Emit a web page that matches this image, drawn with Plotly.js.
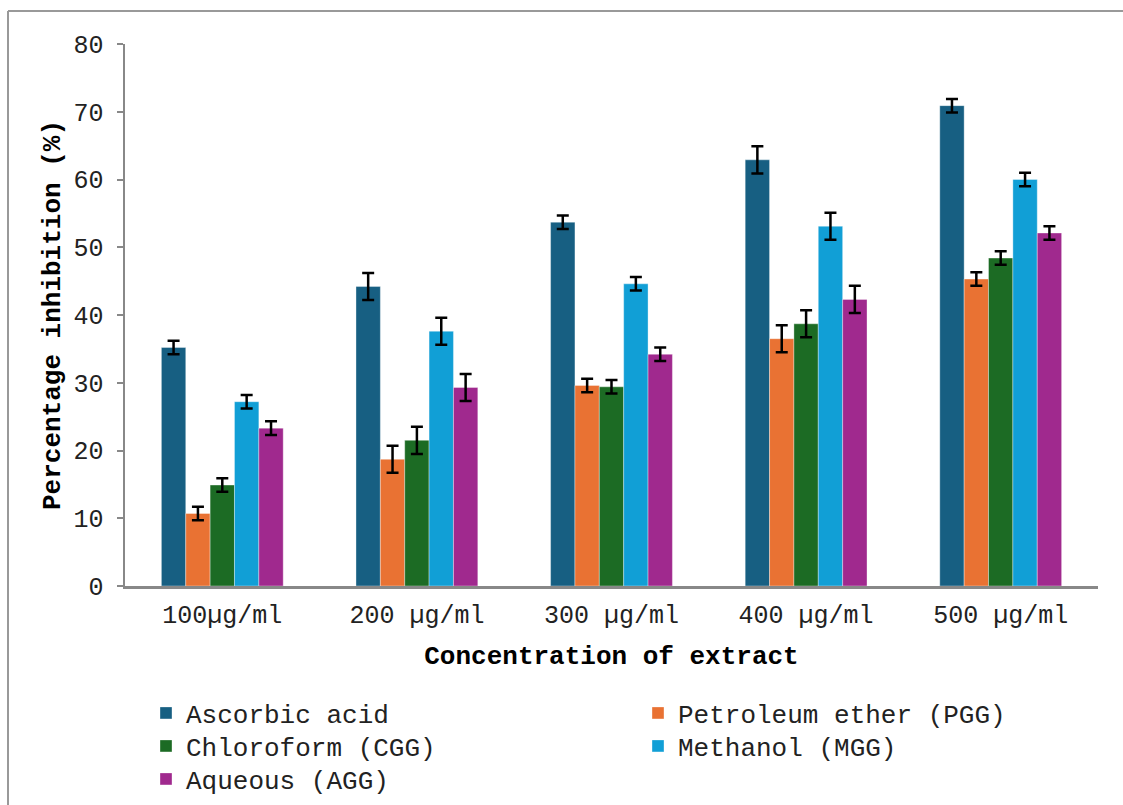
<!DOCTYPE html>
<html>
<head>
<meta charset="utf-8">
<script src="https://cdn.plot.ly/plotly-3.0.1.min.js"></script>
<style>
  html, body { margin: 0; padding: 0; background: #ffffff; }
  #chart { width: 1123px; height: 805px; }
</style>
</head>
<body>
<div id="chart"></div>
<script>
// Concentration groups along the x axis
const concentrations = ['100µg/ml', '200 µg/ml', '300 µg/ml', '400 µg/ml', '500 µg/ml'];

// Percentage inhibition per extract (mean values)
const ascorbicAcid   = [35.2, 44.2, 53.7, 62.9, 70.9];
const petroleumEther = [10.7, 18.7, 29.6, 36.5, 45.3];
const chloroform     = [14.9, 21.5, 29.4, 38.7, 48.4];
const methanol       = [27.2, 37.6, 44.6, 53.1, 60.0];
const aqueous        = [23.3, 29.3, 34.2, 42.3, 52.1];

// Standard deviations shown as error bars
const ascorbicErr  = [1.0, 2.0, 1.0, 2.0, 1.0];
const petroleumErr = [1.0, 2.0, 1.0, 2.0, 1.0];
const chloroErr    = [1.0, 2.0, 1.0, 2.0, 1.0];
const methanolErr  = [1.0, 2.0, 1.0, 2.0, 1.0];
const aqueousErr   = [1.0, 2.0, 1.0, 2.0, 1.0];

const seriesNames = ['Ascorbic acid', 'Petroleum ether (PGG)', 'Chloroform (CGG)', 'Methanol (MGG)', 'Aqueous (AGG)'];
const seriesColors = ['#175f82', '#e97233', '#1c6b24', '#119fd6', '#a0298e'];
const seriesValues = [ascorbicAcid, petroleumEther, chloroform, methanol, aqueous];
const seriesErrors = [ascorbicErr, petroleumErr, chloroErr, methanolErr, aqueousErr];

const mono = '"Liberation Mono", "Courier New", monospace';

// Plot area edges in pixels, and helpers to place things in paper units
const L = 125, R = 1098, T = 44, B = 586;
const px2x = p => (p - L) / (R - L);
const px2y = p => (B - p) / (B - T);

// Legend laid out in two columns, three rows: one legend box per entry
const legendIds = ['legend', 'legend2', 'legend3', 'legend4', 'legend5'];
const legendLeft = [146, 638, 146, 638, 146];
const legendRowY = [713, 713, 746, 746, 779];

const traces = seriesNames.map((name, i) => ({
  type: 'bar',
  name: name,
  legend: legendIds[i],
  x: concentrations,
  y: seriesValues[i],
  marker: { color: seriesColors[i], line: { color: 'rgba(255,255,255,0.35)', width: 1 } },
  error_y: { type: 'data', array: seriesErrors[i], visible: true, color: '#000000', thickness: 2.5, width: 6 }
}));

const layout = {
  width: 1123,
  height: 805,
  margin: { l: L, r: 1123 - R, t: T, b: 805 - B, pad: 0, autoexpand: false },
  paper_bgcolor: '#ffffff',
  plot_bgcolor: '#ffffff',
  barmode: 'group',
  bargap: 0.374,
  bargroupgap: 0,
  showlegend: true,
  font: { family: mono, color: '#222222' },
  xaxis: {
    type: 'category',
    showline: true, linecolor: '#888888', linewidth: 3,
    ticks: '', showgrid: false, zeroline: false,
    ticklabelstandoff: 4,
    tickfont: { family: mono, size: 25, color: '#222222' },
    title: { text: 'Concentration of extract', font: { family: mono, size: 26, color: '#000000', weight: 'bold' }, standoff: 16 },
    automargin: false
  },
  yaxis: {
    range: [0, 80], dtick: 10, tick0: 0,
    showline: true, linecolor: '#888888', linewidth: 2.5,
    ticks: 'outside', ticklen: 6, tickwidth: 2, tickcolor: '#888888',
    showgrid: false, zeroline: false,
    ticklabelstandoff: 8,
    tickfont: { family: mono, size: 25, color: '#222222' },
    title: { text: 'Percentage inhibition (%)', font: { family: mono, size: 26, color: '#000000', weight: 'bold' }, standoff: 6 },
    automargin: false
  },
  shapes: [
    { type: 'line', xref: 'paper', yref: 'paper', x0: px2x(8), x1: px2x(8), y0: px2y(11), y1: px2y(820), line: { color: '#999999', width: 2 } },
    { type: 'line', xref: 'paper', yref: 'paper', x0: px2x(8), x1: px2x(1140), y0: px2y(11), y1: px2y(11), line: { color: '#999999', width: 2 } }
  ]
};

legendIds.forEach((id, i) => {
  layout[id] = {
    orientation: 'v',
    x: px2x(legendLeft[i]), xanchor: 'left',
    y: px2y(legendRowY[i]), yanchor: 'middle',
    font: { family: mono, size: 26, color: '#222222' },
    bgcolor: 'rgba(0,0,0,0)',
    borderwidth: 0
  };
});

Plotly.newPlot('chart', traces, layout, { displayModeBar: false, staticPlot: true });
</script>
</body>
</html>
